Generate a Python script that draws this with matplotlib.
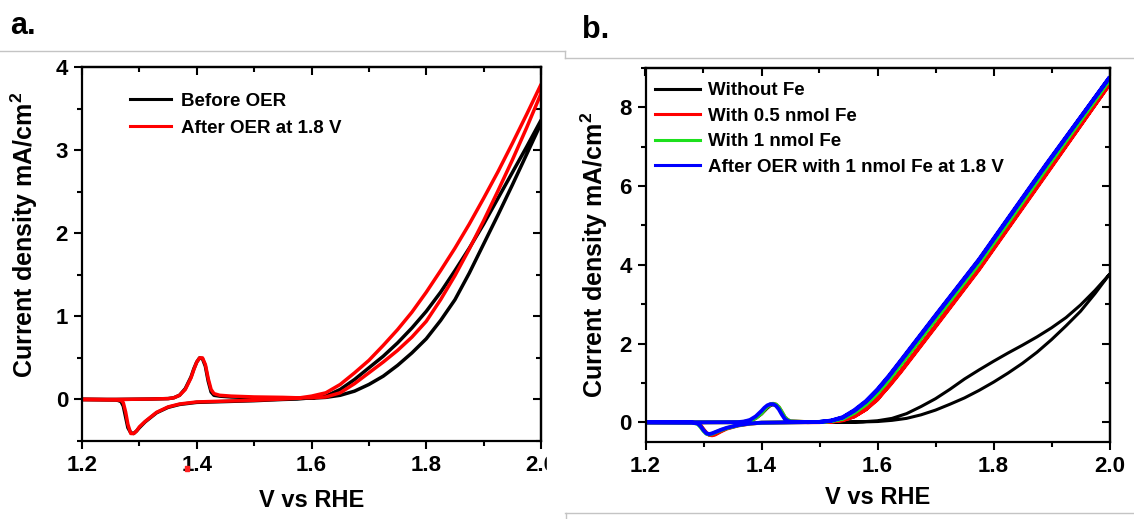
import matplotlib
matplotlib.use("Agg")
import matplotlib.pyplot as plt
from matplotlib.lines import Line2D
from matplotlib.patches import Rectangle
from matplotlib.ticker import MultipleLocator, NullFormatter

plt.rcParams["font.family"] = ["Liberation Sans", "DejaVu Sans"]
plt.rcParams["font.weight"] = "bold"
plt.rcParams["axes.labelweight"] = "bold"
plt.rcParams["mathtext.fontset"] = "custom"
plt.rcParams["mathtext.rm"] = "Liberation Sans:bold"
plt.rcParams["mathtext.bf"] = "Liberation Sans:bold"
plt.rcParams["mathtext.default"] = "rm"

# ---------------- panel a: CV before / after OER ----------------
a_fwd_v = [1.20, 1.26, 1.32, 1.35, 1.36, 1.37, 1.38, 1.39, 1.395, 1.40, 1.405, 1.41,
           1.415, 1.42, 1.425, 1.43, 1.44, 1.46, 1.50, 1.55, 1.575, 1.60, 1.625, 1.65,
           1.675, 1.70, 1.725, 1.75, 1.775, 1.80, 1.825, 1.85, 1.875, 1.90, 1.925, 1.95,
           1.975, 2.00]
a_before_fwd = [0.0, 0.0, 0.005, 0.01, 0.02, 0.05, 0.13, 0.27, 0.37, 0.45, 0.50, 0.49,
                0.40, 0.22, 0.09, 0.05, 0.04, 0.03, 0.02, 0.015, 0.015, 0.015, 0.025,
                0.05, 0.10, 0.18, 0.28, 0.41, 0.56, 0.73, 0.95, 1.20, 1.52, 1.87, 2.22,
                2.58, 2.95, 3.32]
a_after_fwd = [0.0, 0.0, 0.005, 0.01, 0.02, 0.05, 0.12, 0.26, 0.36, 0.45, 0.50, 0.50,
               0.42, 0.25, 0.12, 0.07, 0.05, 0.04, 0.03, 0.025, 0.02, 0.02, 0.03, 0.08,
               0.19, 0.32, 0.45, 0.59, 0.75, 0.94, 1.20, 1.49, 1.81, 2.15, 2.51, 2.88,
               3.27, 3.68]

a_rev_v = [2.00, 1.975, 1.95, 1.925, 1.90, 1.875, 1.85, 1.825, 1.80, 1.775, 1.75, 1.725,
           1.70, 1.675, 1.65, 1.625, 1.60, 1.575, 1.55, 1.50, 1.45, 1.40, 1.37, 1.35,
           1.33, 1.31, 1.30, 1.295, 1.29, 1.285, 1.28, 1.276, 1.272, 1.268, 1.26, 1.20]
a_before_rev = [3.36, 3.04, 2.73, 2.42, 2.11, 1.82, 1.55, 1.29, 1.06, 0.86, 0.68, 0.52,
                0.38, 0.24, 0.12, 0.04, 0.02, 0.005, 0.0, -0.015, -0.025, -0.035, -0.06,
                -0.095, -0.16, -0.27, -0.34, -0.38, -0.41, -0.40, -0.34, -0.21, -0.08,
                -0.025, -0.005, 0.0]
a_after_rev = [3.79, 3.43, 3.08, 2.74, 2.42, 2.11, 1.82, 1.55, 1.29, 1.05, 0.84, 0.65,
               0.47, 0.32, 0.18, 0.08, 0.04, 0.015, 0.005, -0.01, -0.02, -0.03, -0.055,
               -0.09, -0.155, -0.265, -0.33, -0.38, -0.41, -0.41, -0.30, -0.15, -0.04,
               -0.01, -0.005, 0.0]

a_labels = ["Before OER", "After OER at 1.8 V"]

# ---------------- panel b: effect of Fe ----------------
b_fwd_v = [1.20, 1.30, 1.36, 1.37, 1.38, 1.39, 1.40, 1.405, 1.41, 1.415, 1.42, 1.425,
           1.43, 1.435, 1.44, 1.445, 1.45, 1.48, 1.50, 1.52, 1.54, 1.56, 1.58, 1.60,
           1.62, 1.64, 1.70, 1.775, 1.89, 2.00]
b_blue_fwd = [0.0, 0.0, 0.005, 0.02, 0.06, 0.15, 0.29, 0.37, 0.43, 0.46, 0.46, 0.42,
              0.33, 0.20, 0.09, 0.035, 0.015, 0.005, 0.01, 0.04, 0.12, 0.29, 0.52, 0.82,
              1.17, 1.55, 2.70, 4.12, 6.52, 8.76]
b_green_fwd = [0.0, 0.0, 0.003, 0.012, 0.04, 0.11, 0.23, 0.32, 0.40, 0.45, 0.47, 0.45,
               0.38, 0.26, 0.13, 0.06, 0.025, 0.005, 0.008, 0.03, 0.09, 0.24, 0.45, 0.74,
               1.08, 1.46, 2.61, 4.03, 6.43, 8.70]
b_red_fwd = [0.0, 0.0, 0.003, 0.012, 0.04, 0.11, 0.23, 0.32, 0.40, 0.45, 0.47, 0.45,
             0.38, 0.26, 0.13, 0.06, 0.025, 0.005, 0.005, 0.015, 0.05, 0.15, 0.33, 0.60,
             0.92, 1.28, 2.43, 3.88, 6.28, 8.59]

b_rev_v = [2.00, 1.89, 1.775, 1.70, 1.64, 1.62, 1.60, 1.58, 1.56, 1.54, 1.52, 1.50, 1.45,
           1.40, 1.38, 1.36, 1.34, 1.33, 1.32, 1.315, 1.31, 1.305, 1.30, 1.295, 1.29,
           1.28, 1.20]
b_blue_rev = [8.76, 6.54, 4.14, 2.72, 1.57, 1.19, 0.84, 0.54, 0.31, 0.13, 0.045, 0.01,
              0.0, -0.01, -0.03, -0.07, -0.14, -0.19, -0.25, -0.28, -0.30, -0.28, -0.20,
              -0.10, -0.03, -0.005, 0.0]
b_green_rev = [8.70, 6.45, 4.05, 2.63, 1.48, 1.10, 0.76, 0.47, 0.26, 0.10, 0.035, 0.01,
               0.0, -0.01, -0.03, -0.075, -0.15, -0.20, -0.26, -0.29, -0.31, -0.29, -0.22,
               -0.12, -0.04, -0.005, 0.0]
b_red_rev = [8.59, 6.30, 3.90, 2.45, 1.30, 0.94, 0.58, 0.33, 0.15, 0.06, 0.02, 0.005,
             0.0, -0.01, -0.035, -0.08, -0.16, -0.23, -0.31, -0.33, -0.32, -0.27, -0.18,
             -0.08, -0.025, -0.005, 0.0]

b_black_fwd_v = [1.20, 1.30, 1.37, 1.38, 1.39, 1.40, 1.41, 1.415, 1.42, 1.425, 1.43,
                 1.435, 1.44, 1.45, 1.50, 1.55, 1.575, 1.60, 1.625, 1.65, 1.675, 1.70,
                 1.725, 1.75, 1.775, 1.80, 1.825, 1.85, 1.875, 1.90, 1.925, 1.95, 1.975,
                 2.00]
b_black_fwd = [0.0, 0.0, 0.01, 0.035, 0.10, 0.21, 0.36, 0.42, 0.45, 0.43, 0.35, 0.22,
               0.10, 0.02, 0.0, 0.005, 0.01, 0.02, 0.05, 0.10, 0.19, 0.31, 0.46, 0.62,
               0.81, 1.02, 1.25, 1.50, 1.78, 2.10, 2.45, 2.82, 3.27, 3.76]
b_black_rev_v = [2.00, 1.975, 1.95, 1.925, 1.90, 1.875, 1.85, 1.825, 1.80, 1.775, 1.75,
                 1.725, 1.70, 1.675, 1.65, 1.625, 1.60, 1.575, 1.55, 1.50, 1.40, 1.38,
                 1.36, 1.34, 1.33, 1.32, 1.315, 1.31, 1.305, 1.30, 1.295, 1.29, 1.28,
                 1.20]
b_black_rev = [3.76, 3.35, 2.98, 2.66, 2.40, 2.17, 1.96, 1.76, 1.55, 1.33, 1.10, 0.84,
               0.60, 0.40, 0.22, 0.10, 0.04, 0.015, 0.005, 0.0, -0.01, -0.03, -0.08,
               -0.16, -0.23, -0.31, -0.33, -0.32, -0.27, -0.18, -0.08, -0.025, -0.005,
               0.0]

b_labels = ["Without Fe", "With 0.5 nmol Fe", "With 1 nmol Fe",
            "After OER with 1 nmol Fe at 1.8 V"]


def style_axes(ax, ymajor, yminor):
    ax.set_xlim(1.2, 2.0)
    ax.xaxis.set_major_locator(MultipleLocator(0.2))
    ax.xaxis.set_minor_locator(MultipleLocator(0.1))
    ax.yaxis.set_major_locator(MultipleLocator(ymajor))
    ax.yaxis.set_minor_locator(MultipleLocator(yminor))
    ax.tick_params(which="both", direction="out", width=1.5, top=False, right=False,
                   labelsize=16, pad=4)
    ax.tick_params(which="major", length=6)
    ax.tick_params(which="minor", length=3.5)
    for s in ax.spines.values():
        s.set_linewidth(1.6)
    # mirrored inward ticks on top / right, no labels
    top = ax.secondary_xaxis("top")
    top.xaxis.set_major_locator(MultipleLocator(0.2))
    top.xaxis.set_minor_locator(MultipleLocator(0.1))
    top.xaxis.set_major_formatter(NullFormatter())
    top.tick_params(which="both", direction="in", width=1.5)
    top.tick_params(which="major", length=6)
    top.tick_params(which="minor", length=3.5)
    top.spines["top"].set_linewidth(1.6)
    right = ax.secondary_yaxis("right")
    right.yaxis.set_major_locator(MultipleLocator(ymajor))
    right.yaxis.set_minor_locator(MultipleLocator(yminor))
    right.yaxis.set_major_formatter(NullFormatter())
    right.tick_params(which="both", direction="in", width=1.5)
    right.tick_params(which="major", length=6)
    right.tick_params(which="minor", length=3.5)
    right.spines["right"].set_linewidth(1.6)


fig = plt.figure(figsize=(11.34, 5.19), dpi=100)
W, H = 1134, 519

# panel a
ax1 = fig.add_axes([82 / W, 1 - 441 / H, 459 / W, 374 / H])
ax1.plot(a_fwd_v + a_rev_v, a_before_fwd + a_before_rev, color="black", lw=2.5,
         label=a_labels[0])
ax1.plot(a_fwd_v + a_rev_v, a_after_fwd + a_after_rev, color="#ff0000", lw=2.5,
         label=a_labels[1])
ax1.set_ylim(-0.5, 4)
style_axes(ax1, 1, 0.5)
ax1.set_xlabel("V vs RHE", fontsize=17, va="center")
ax1.xaxis.set_label_coords(0.5, -0.158)
ax1.set_ylabel("Current density mA/cm$^{2}$", fontsize=18, va="center")
ax1.yaxis.set_label_coords(-0.125, 0.55)
leg1 = ax1.legend(loc="upper left", bbox_to_anchor=(0.105, 0.932), frameon=False,
                  fontsize=13.5, handlelength=2.2, handletextpad=0.5, labelspacing=0.55,
                  borderpad=0, borderaxespad=0)
for ln in leg1.get_lines():
    ln.set_linewidth(2.2)

# panel b
ax2 = fig.add_axes([645.5 / W, 1 - 442 / H, 464 / W, 374 / H])
ax2.plot(b_black_fwd_v + b_black_rev_v, b_black_fwd + b_black_rev, color="black",
         lw=2.2, label=b_labels[0])
ax2.plot(b_fwd_v + b_rev_v, b_red_fwd + b_red_rev, color="#ff0000", lw=2.8,
         label=b_labels[1])
ax2.plot(b_fwd_v + b_rev_v, b_green_fwd + b_green_rev, color="#1de01d", lw=2.8,
         label=b_labels[2])
ax2.plot(b_fwd_v + b_rev_v, b_blue_fwd + b_blue_rev, color="#0000ff", lw=2.8,
         label=b_labels[3])
ax2.set_ylim(-0.5, 9)
style_axes(ax2, 2, 1)
ax2.set_xlabel("V vs RHE", fontsize=17, va="center")
ax2.xaxis.set_label_coords(0.5, -0.148)
ax2.set_ylabel("Current density mA/cm$^{\\mathbf{2}}$", fontsize=18, va="center")
ax2.yaxis.set_label_coords(-0.111, 0.5)
leg2 = ax2.legend(loc="upper left", bbox_to_anchor=(0.02, 0.962), frameon=False,
                  fontsize=13.5, handlelength=2.4, handletextpad=0.45, labelspacing=0.45,
                  borderpad=0, borderaxespad=0)
for ln in leg2.get_lines():
    ln.set_linewidth(2.2)

# panel letters
fig.text(10 / W, 1 - 26 / H, "a.", fontsize=22, fontweight="bold", va="center")
fig.text(582 / W, 1 - 30 / H, "b.", fontsize=22, fontweight="bold", va="center")

# panel a was pasted as a cropped image: its last tick label is cut off
fig.add_artist(Rectangle((547 / W, 1 - 486 / H), 17 / W, 38 / H, color="white",
                         transform=fig.transFigure, zorder=10))
# stray red speck next to the 1.4 label in the source image
fig.add_artist(Rectangle((185 / W, 1 - 471 / H), 4 / W, 5 / H, color="#ff2020",
                         transform=fig.transFigure, zorder=10))

# faint slide borders around the pasted panels
gray = "#c4c4c4"
for xs, ys in [([0, 565], [51, 51]), ([565, 565], [51, 58]), ([565, 1134], [58, 58]),
               ([565, 1134], [513, 513]), ([566, 566], [513, 519])]:
    fig.add_artist(Line2D([x / W for x in xs], [1 - y / H for y in ys], color=gray,
                          lw=1, transform=fig.transFigure, zorder=11))

fig.savefig("out.png", dpi=100)
